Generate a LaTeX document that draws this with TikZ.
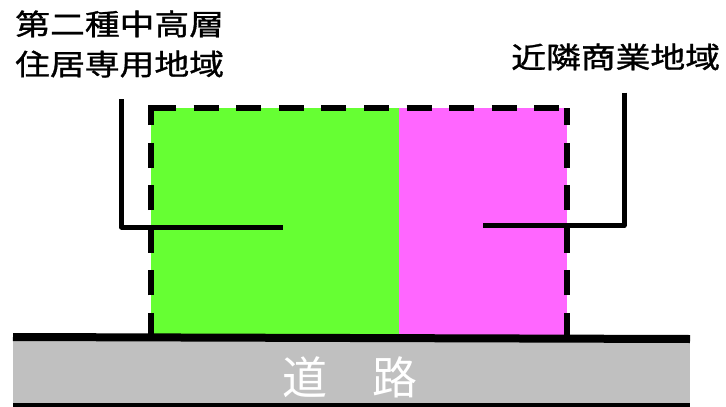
\documentclass[tikz,border=0pt]{standalone}
\usepackage{fontspec}
\newfontfamily\cjk{Noto Sans CJK JP}
\newfontfamily\cjkb[FakeBold=1]{Noto Sans CJK JP}
\definecolor{zgreen}{HTML}{66FF33}
\definecolor{zpink}{HTML}{FF66FF}
\definecolor{roadgray}{HTML}{C0C0C0}
\begin{document}
\begin{tikzpicture}[x=1pt,y=-1pt,
  lbl/.style={font=\cjkb\fontsize{29}{40}\selectfont, inner sep=0pt, xscale=1.2, align=left, text=black},
  roadlbl/.style={font=\cjk\fontsize{45}{50}\selectfont, inner sep=0pt, text=white},
  zone/.style={inner sep=0pt, outer sep=0pt, anchor=north west},
  edgedash/.style={line width=5.5pt, dash pattern=on 25pt off 17.6pt},
  leader/.style={line width=5pt, line join=round},
  roadline/.style={line width=8pt}]
\useasboundingbox (0,0) rectangle (726,407);
% zones
\node[zone, fill=zgreen, minimum width=248pt, minimum height=230pt] (res) at (151,108) {};
\node[zone, fill=zpink, minimum width=168pt, minimum height=230pt] (com) at (399,108) {};
% road
\node[zone, fill=roadgray, minimum width=677pt, minimum height=62pt] (road) at (13,341) {};
\coordinate (rl1) at (13,337);
\coordinate (rl2) at (690,339);
\draw[roadline] (rl1) -- (rl2);
\coordinate (rb1) at (13,405);
\coordinate (rb2) at (690,405);
\draw[line width=4pt] (rb1) -- (rb2);
\node[roadlbl, anchor=base] (roadtext) at (350,394) {道　路};
% dashed site border
\coordinate (bl) at (151,338);
\coordinate (tl) at (151,105.25);
\coordinate (tl2) at (151,108);
\coordinate (tr) at (567,108);
\coordinate (br) at (567,338);
\draw[edgedash] (bl) -- (tl);
\draw[edgedash] (tl2) -- (tr);
\draw[edgedash] (br) -- (tr);
% labels
\node[lbl, anchor=base west] (lblA) at (15,75) {第二種中高層\\住居専用地域};
\node[lbl, anchor=base west] (lblB) at (511,68) {近隣商業地域};
% leader lines
\coordinate (la) at (121.5,99);
\coordinate (lae) at (283,227);
\draw[leader] (la) |- (lae);
\coordinate (lb) at (624,92.5);
\coordinate (lbe) at (483,225.5);
\draw[leader] (lb) |- (lbe);
\end{tikzpicture}
\end{document}
